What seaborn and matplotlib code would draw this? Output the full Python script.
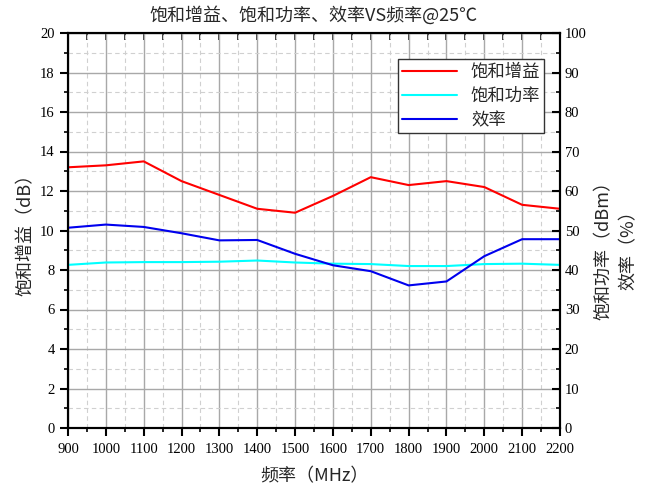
import matplotlib
matplotlib.use("Agg")
import matplotlib.pyplot as plt
import seaborn as sns
import pandas as pd
from matplotlib.ticker import MultipleLocator

sns.set_style("white")
plt.rcParams['font.family'] = ['Liberation Serif', 'Noto Sans CJK SC', 'DejaVu Sans']
plt.rcParams['axes.unicode_minus'] = False

freq = [900, 1000, 1100, 1200, 1300, 1400, 1500, 1600, 1700, 1800, 1900, 2000, 2100, 2200]
gain = [13.2, 13.3, 13.5, 12.5, 11.8, 11.1, 10.9, 11.75, 12.7, 12.3, 12.5, 12.2, 11.3, 11.1]
power = [41.3, 41.9, 42.0, 42.0, 42.1, 42.4, 41.9, 41.6, 41.5, 41.0, 41.0, 41.5, 41.6, 41.3]
eff = [50.7, 51.5, 50.9, 49.3, 47.5, 47.6, 44.1, 41.2, 39.7, 36.1, 37.1, 43.5, 47.8, 47.8]

title = "饱和增益、饱和功率、效率VS频率@25℃"
xlabel = "频率（MHz）"
ylabel_left = "饱和增益（dB）"
ylabel_right1 = "饱和功率（dBm）"
ylabel_right2 = "效率（%）"
names = ["饱和增益", "饱和功率", "效率"]

df = pd.DataFrame({"freq": freq, "gain": gain, "power": power, "eff": eff})

fig = plt.figure(figsize=(6.56, 4.91), dpi=100)
ax = fig.add_axes([68/656, 63/491, 492/656, 395/491])
ax2 = ax.twinx()

sns.lineplot(data=df, x="freq", y="gain", ax=ax, color="#ff0000", lw=1.5, label=names[0], legend=False)
sns.lineplot(data=df, x="freq", y="power", ax=ax2, color="#00ffff", lw=1.5, label=names[1], legend=False)
sns.lineplot(data=df, x="freq", y="eff", ax=ax2, color="#0000ee", lw=1.5, label=names[2], legend=False)

ax.set_xlim(900, 2200)
ax.set_ylim(0, 20)
ax2.set_ylim(0, 100)
ax.xaxis.set_major_locator(MultipleLocator(100))
ax.xaxis.set_minor_locator(MultipleLocator(50))
ax.yaxis.set_major_locator(MultipleLocator(2))
ax.yaxis.set_minor_locator(MultipleLocator(1))
ax2.yaxis.set_major_locator(MultipleLocator(10))
ax2.yaxis.set_minor_locator(MultipleLocator(5))

ax.grid(which="major", color="#a8a8a8", lw=1.0, ls="-")
ax.grid(which="minor", color="#d0d0d0", lw=0.8, ls=(0, (4, 3)))
ax.set_axisbelow(True)

for a in (ax, ax2):
    for s in a.spines.values():
        s.set_linewidth(1.5)
        s.set_color("black")

ax.tick_params(axis="x", which="both", direction="out", bottom=True, top=False, labelsize=10.5, colors="black", pad=5)
ax.tick_params(axis="x", which="major", length=6, width=1.5)
ax.tick_params(axis="x", which="minor", length=3, width=1.2)
ax.tick_params(axis="y", which="both", direction="out", left=True, labelsize=10.5, colors="black")
ax.tick_params(axis="y", which="major", length=6, width=1.5)
ax.tick_params(axis="y", which="minor", length=3, width=1.2)
ax2.tick_params(axis="y", which="both", direction="in", right=True, labelsize=10.5, colors="black")
ax2.tick_params(axis="y", which="major", length=6, width=1.5)
ax2.tick_params(axis="y", which="minor", length=3, width=1.2)
# top ticks inward
secx = ax.secondary_xaxis("top")
secx.xaxis.set_major_locator(MultipleLocator(100))
secx.xaxis.set_minor_locator(MultipleLocator(50))
secx.tick_params(which="both", direction="in", labeltop=False, length=5, width=1.3)

ax.set_xlabel(xlabel, fontsize=13, family=['Noto Sans CJK SC', 'Liberation Serif'], labelpad=8)
ax.set_ylabel(ylabel_left, fontsize=13, family=['Noto Sans CJK SC', 'Liberation Serif'], labelpad=4)
ax2.set_ylabel("")
ax.set_title(title, fontsize=13, family=['Noto Sans CJK SC', 'Liberation Serif'], pad=9)

fig.text(604/656, 0.5, ylabel_right1, rotation=90, ha="center", va="center", fontsize=13,
         family=['Noto Sans CJK SC', 'Liberation Serif'])
fig.text(629/656, 0.5, ylabel_right2, rotation=90, ha="center", va="center", fontsize=13,
         family=['Noto Sans CJK SC', 'Liberation Serif'])

h1, l1 = ax.get_legend_handles_labels()
h2, l2 = ax2.get_legend_handles_labels()
leg = ax2.legend(h1 + h2, l1 + l2, loc="upper right", bbox_to_anchor=(0.985, 0.955),
                 frameon=True, fancybox=False, edgecolor="#333333", framealpha=1,
                 prop={'family': ['Noto Sans CJK SC'], 'size': 12.5},
                 handlelength=3.2, borderpad=0.2, labelspacing=0.35, handletextpad=0.8)
leg.get_frame().set_linewidth(1.0)

fig.savefig("out.png", dpi=100)
